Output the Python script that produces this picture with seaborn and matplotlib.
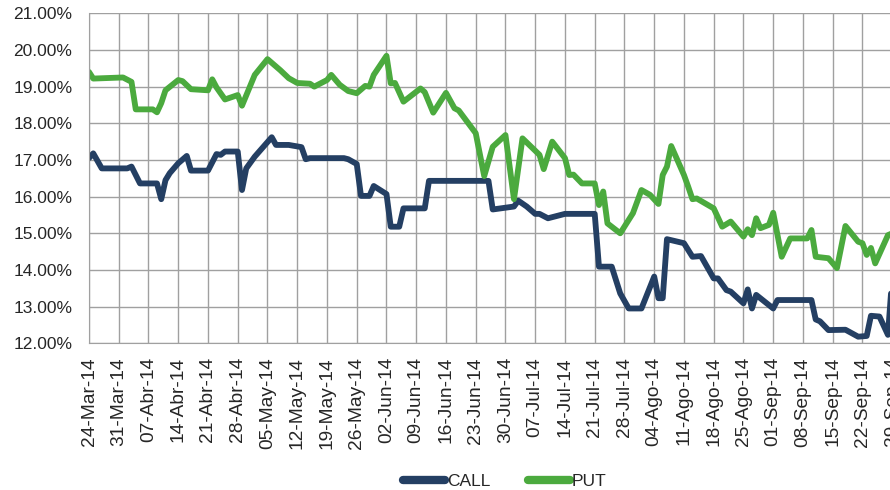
import pandas as pd
import seaborn as sns
import matplotlib.pyplot as plt
from matplotlib.ticker import FuncFormatter

# Data (days counted from 24-Mar-2014, values in %)
start = pd.Timestamp('2014-03-24')

call_days = [0, 1, 3, 9, 10, 12, 16, 17, 18, 19, 21, 23, 24, 28, 30, 31, 32, 35, 36, 37,
             39, 43, 44, 47, 50, 51, 52, 60, 61, 63, 64, 66, 67, 70, 71, 73, 74, 79, 80, 94,
             95, 100, 101, 103, 105, 106, 108, 112, 119, 120, 123, 125, 127, 130, 133, 134,
             135, 136, 140, 142, 144, 147, 148, 150, 151, 154, 155, 156, 157, 161, 162, 170,
             171, 172, 174, 178, 181, 183, 184, 186, 188, 189]
call_vals = [17.05, 17.18, 16.77, 16.77, 16.82, 16.36, 16.36, 15.93, 16.45, 16.64, 16.91,
             17.11, 16.71, 16.71, 17.16, 17.14, 17.23, 17.23, 16.18, 16.77, 17.09, 17.62,
             17.41, 17.41, 17.35, 17.02, 17.05, 17.05, 17.02, 16.89, 16.02, 16.02, 16.29,
             16.07, 15.18, 15.18, 15.68, 15.68, 16.43, 16.43, 15.65, 15.73, 15.89, 15.73,
             15.53, 15.53, 15.41, 15.53, 15.53, 14.09, 14.09, 13.36, 12.95, 12.95, 13.82,
             13.23, 13.23, 14.84, 14.73, 14.36, 14.38, 13.77, 13.77, 13.45, 13.41, 13.09,
             13.47, 12.95, 13.32, 12.95, 13.18, 13.18, 12.65, 12.60, 12.36, 12.37, 12.18,
             12.20, 12.75, 12.73, 12.23, 13.80]

put_days = [0, 1, 8, 10, 11, 15, 16, 17, 18, 21, 22, 24, 28, 29, 30, 32, 35, 36, 39, 42,
            45, 47, 49, 52, 53, 56, 57, 59, 61, 63, 65, 66, 67, 70, 71, 72, 74, 78, 79, 81,
            84, 86, 87, 91, 93, 95, 98, 100, 102, 106, 107, 109, 112, 113, 114, 116, 119,
            120, 121, 122, 125, 128, 130, 132, 134, 135, 136, 137, 140, 141, 142, 143, 147,
            149, 151, 154, 155, 156, 157, 158, 160, 161, 163, 165, 169, 170, 171, 174, 176,
            178, 181, 182, 183, 184, 185, 188, 189]
put_vals = [19.40, 19.22, 19.25, 19.13, 18.38, 18.38, 18.30, 18.55, 18.90, 19.18, 19.15,
            18.93, 18.90, 19.20, 18.98, 18.65, 18.77, 18.48, 19.32, 19.75, 19.45, 19.23,
            19.10, 19.08, 19.00, 19.18, 19.32, 19.05, 18.88, 18.82, 19.02, 19.00, 19.32,
            19.84, 19.09, 19.10, 18.59, 18.95, 18.85, 18.29, 18.83, 18.41, 18.35, 17.73,
            16.56, 17.36, 17.68, 15.93, 17.59, 17.14, 16.75, 17.50, 17.05, 16.59, 16.60,
            16.36, 16.36, 15.77, 16.14, 15.27, 15.00, 15.55, 16.18, 16.05, 15.80, 16.59,
            16.82, 17.38, 16.59, 16.27, 15.93, 15.95, 15.68, 15.18, 15.32, 14.91, 15.11,
            14.95, 15.41, 15.14, 15.23, 15.56, 14.36, 14.86, 14.86, 15.09, 14.36, 14.32,
            14.05, 15.20, 14.77, 14.73, 14.41, 14.60, 14.18, 14.95, 15.00]

tick_labels = ['24-Mar-14', '31-Mar-14', '07-Abr-14', '14-Abr-14', '21-Abr-14', '28-Abr-14',
               '05-May-14', '12-May-14', '19-May-14', '26-May-14', '02-Jun-14', '09-Jun-14',
               '16-Jun-14', '23-Jun-14', '30-Jun-14', '07-Jul-14', '14-Jul-14', '21-Jul-14',
               '28-Jul-14', '04-Ago-14', '11-Ago-14', '18-Ago-14', '25-Ago-14', '01-Sep-14',
               '08-Sep-14', '15-Sep-14', '22-Sep-14', '29-Sep-14']

# Build long-form frame
df = pd.concat([
    pd.DataFrame({'fecha': start + pd.to_timedelta(call_days, unit='D'),
                  'vol': call_vals, 'serie': 'CALL'}),
    pd.DataFrame({'fecha': start + pd.to_timedelta(put_days, unit='D'),
                  'vol': put_vals, 'serie': 'PUT'}),
])

sns.set_style('white')
plt.rcParams['font.family'] = ['Liberation Sans', 'DejaVu Sans']

fig = plt.figure(figsize=(8.9, 4.9), dpi=100)
ax = fig.add_axes([89 / 890, 146.7 / 490, 810 / 890, 330 / 490])

sns.lineplot(data=df, x='fecha', y='vol', hue='serie',
             palette={'CALL': '#243F63', 'PUT': '#4BAA3E'},
             linewidth=4.2, ax=ax, estimator=None, sort=True)

# Axes limits and ticks
ax.set_xlim(start, start + pd.Timedelta(days=190.6))
ax.set_ylim(12, 21)
ticks = [start + pd.Timedelta(weeks=i) for i in range(len(tick_labels))]
ax.set_xticks(ticks)
ax.set_xticklabels(tick_labels, rotation=90, fontsize=13.8)
ax.set_yticks(range(12, 22))
ax.yaxis.set_major_formatter(FuncFormatter(lambda v, p: f'{v:.2f}%'))
ax.tick_params(axis='y', labelsize=12.5, length=6, color='#999999', pad=6, direction='out')
ax.tick_params(axis='x', length=6, color='#999999', pad=4, direction='out')

ax.grid(True, color='#a0a0a0', linewidth=1)
for s in ['top', 'right']:
    ax.spines[s].set_visible(False)
for s in ['left', 'bottom']:
    ax.spines[s].set_color('#a0a0a0')
ax.set_xlabel('')
ax.set_ylabel('')

# Legend at bottom
leg = ax.legend(loc='lower center', bbox_to_anchor=(505 / 890, -0.03),
                bbox_transform=fig.transFigure,
                ncol=2, frameon=False, fontsize=12.5, handlelength=2.4,
                handletextpad=0.1, columnspacing=2.2)
for line in leg.get_lines():
    line.set_linewidth(6)
    line.set_solid_capstyle('round')

fig.savefig('out.png')
